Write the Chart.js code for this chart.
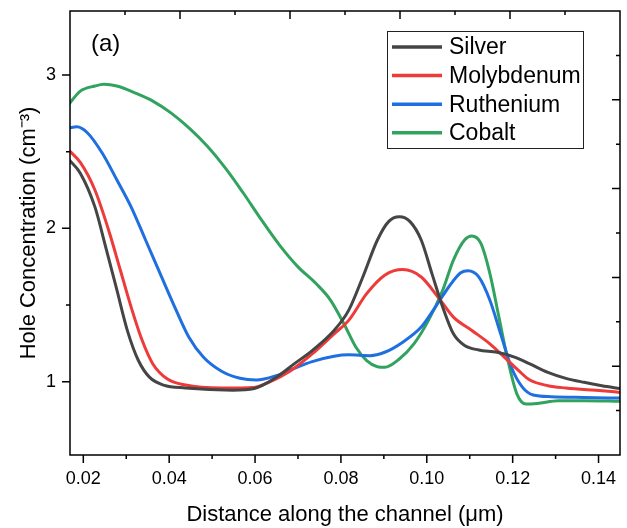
<!DOCTYPE html>
<html>
<head>
<meta charset="utf-8">
<script src="https://cdn.jsdelivr.net/npm/chart.js@4.4.1/dist/chart.umd.min.js"></script>
<style>
  html, body { margin: 0; padding: 0; background: #fff; }
  #wrap { width: 627px; height: 528px; position: relative; }
</style>
</head>
<body>
<div id="wrap"><canvas id="c" width="627" height="528"></canvas></div>
<script>
// ---- data ----
const seriesNames = ['Silver', 'Molybdenum', 'Ruthenium', 'Cobalt'];

const silverX = [0.0166,0.0193,0.0227,0.0252,0.0278,0.0303,0.0328,0.0354,0.0387,0.0438,0.0548,0.0598,0.0649,0.0691,0.0733,0.0784,0.0818,0.0851,0.0885,0.0911,0.0936,0.0961,0.0987,0.1012,0.1037,0.1062,0.1088,0.1121,0.1164,0.1206,0.1240,0.1282,0.1324,0.1366,0.1408,0.1451];
const silverY = [2.45,2.36,2.14,1.88,1.60,1.33,1.14,1.03,0.978,0.959,0.945,0.956,1.028,1.116,1.203,1.334,1.465,1.683,1.924,2.044,2.076,2.044,1.924,1.705,1.487,1.312,1.236,1.207,1.192,1.159,1.116,1.061,1.022,0.996,0.974,0.955];

const molyX = [0.0166,0.0193,0.0227,0.0261,0.0286,0.0311,0.0337,0.0362,0.0396,0.0438,0.0522,0.0598,0.0632,0.0683,0.0733,0.0784,0.0818,0.0860,0.0902,0.0944,0.0987,0.1029,0.1062,0.1105,0.1147,0.1181,0.1214,0.1240,0.1282,0.1324,0.1408,0.1451];
const molyY = [2.51,2.43,2.25,1.97,1.73,1.49,1.27,1.116,1.017,0.978,0.959,0.963,0.996,1.072,1.181,1.312,1.400,1.574,1.694,1.731,1.683,1.541,1.421,1.334,1.247,1.159,1.072,1.011,0.974,0.959,0.941,0.930];

const rutheX = [0.0166,0.0185,0.0210,0.0244,0.0278,0.0311,0.0345,0.0379,0.0413,0.0446,0.0480,0.0522,0.0565,0.0603,0.0649,0.0691,0.0733,0.0784,0.0818,0.0868,0.0902,0.0944,0.0987,0.1020,0.1054,0.1079,0.1096,0.1121,0.1147,0.1172,0.1197,0.1223,0.1248,0.1290,0.1366,0.1451];
const rutheY = [2.655,2.662,2.622,2.491,2.317,2.142,1.924,1.705,1.487,1.290,1.159,1.068,1.022,1.011,1.039,1.087,1.131,1.166,1.175,1.170,1.192,1.258,1.356,1.487,1.629,1.710,1.723,1.683,1.531,1.312,1.094,0.963,0.913,0.902,0.897,0.893];

const cobaltX = [0.0166,0.0193,0.0227,0.0248,0.0278,0.0320,0.0362,0.0404,0.0446,0.0489,0.0531,0.0573,0.0615,0.0657,0.0700,0.0742,0.0776,0.0809,0.0835,0.0860,0.0885,0.0902,0.0936,0.0970,0.1004,0.1037,0.1062,0.1088,0.1105,0.1126,0.1147,0.1168,0.1189,0.1210,0.1231,0.1257,0.1307,0.1366,0.1451];
const cobaltY = [2.808,2.895,2.928,2.939,2.928,2.884,2.830,2.753,2.655,2.535,2.393,2.229,2.055,1.891,1.749,1.640,1.531,1.367,1.225,1.138,1.098,1.094,1.148,1.247,1.400,1.596,1.793,1.924,1.950,1.902,1.705,1.421,1.138,0.919,0.854,0.858,0.876,0.876,0.872];

const xTickValues = [0.02, 0.04, 0.06, 0.08, 0.10, 0.12, 0.14];
const xMinorValues = [0.03, 0.05, 0.07, 0.09, 0.11, 0.13];
const yTickValues = [1, 2, 3];
const yMinorValues = [1.5, 2.5];
const topMajor = [0, 1, 2, 3];
const topMinor = [-0.5, 0.5, 1.5, 2.5, 3.5];
const rightMajor = [1, 2, 3, 4];
const rightMinor = [0.5, 1.5, 2.5, 3.5, 4.5];

const colors = ['#454545', '#ef3a3a', '#1f6fe0', '#31a35e'];
const FONT = '"Liberation Sans", Arial, Helvetica, sans-serif';

function pts(xs, ys) { return xs.map((x, i) => ({ x: x, y: ys[i] })); }
const allX = [silverX, molyX, rutheX, cobaltX];
const allY = [silverY, molyY, rutheY, cobaltY];

const datasets = seriesNames.map((n, i) => ({
  label: n,
  data: pts(allX[i], allY[i]),
  borderColor: colors[i],
  backgroundColor: colors[i],
  borderWidth: 3,
  pointRadius: 0,
  cubicInterpolationMode: 'monotone',
  tension: 0.4,
  fill: false
}));

function noPad(s) { s.paddingTop = 0; s.paddingBottom = 0; s.paddingLeft = 0; s.paddingRight = 0; }

const decor = {
  id: 'decor',
  afterDraw(chart) {
    const ctx = chart.ctx;
    const a = chart.chartArea;
    const sx = chart.scales.x, sy = chart.scales.y, sx2 = chart.scales.x2, sy2 = chart.scales.y2;
    ctx.save();
    ctx.strokeStyle = '#000';
    ctx.lineWidth = 1.5;
    // frame
    ctx.strokeRect(a.left, a.top, a.right - a.left, a.bottom - a.top);
    ctx.beginPath();
    // bottom ticks (outward)
    xTickValues.forEach(v => { const p = sx.getPixelForValue(v); ctx.moveTo(p, a.bottom); ctx.lineTo(p, a.bottom + 8); });
    xMinorValues.forEach(v => { const p = sx.getPixelForValue(v); ctx.moveTo(p, a.bottom); ctx.lineTo(p, a.bottom + 4); });
    // left ticks (outward)
    yTickValues.forEach(v => { const p = sy.getPixelForValue(v); ctx.moveTo(a.left, p); ctx.lineTo(a.left - 8, p); });
    yMinorValues.forEach(v => { const p = sy.getPixelForValue(v); ctx.moveTo(a.left, p); ctx.lineTo(a.left - 4, p); });
    // top ticks (inward)
    topMajor.forEach(v => { const p = sx2.getPixelForValue(v); ctx.moveTo(p, a.top); ctx.lineTo(p, a.top + 8); });
    topMinor.forEach(v => { const p = sx2.getPixelForValue(v); ctx.moveTo(p, a.top); ctx.lineTo(p, a.top + 4); });
    // right ticks (inward)
    rightMajor.forEach(v => { const p = sy2.getPixelForValue(v); ctx.moveTo(a.right, p); ctx.lineTo(a.right - 8, p); });
    rightMinor.forEach(v => { const p = sy2.getPixelForValue(v); ctx.moveTo(a.right, p); ctx.lineTo(a.right - 4, p); });
    ctx.stroke();

    // panel label
    ctx.fillStyle = '#000';
    ctx.font = '24px ' + FONT;
    ctx.textAlign = 'left';
    ctx.textBaseline = 'alphabetic';
    ctx.fillText('(a)', a.left + 21, a.top + 40);

    // legend box
    const bx = 387, by = 31, bw = 196, bh = 117;
    ctx.lineWidth = 1;
    ctx.strokeStyle = '#222';
    ctx.strokeRect(bx + 0.5, by + 0.5, bw, bh);
    ctx.font = '23px ' + FONT;
    ctx.textBaseline = 'middle';
    chart.data.datasets.forEach((d, i) => {
      const yy = by + 16 + i * 28.6;
      ctx.strokeStyle = d.borderColor;
      ctx.lineWidth = 3.5;
      ctx.beginPath();
      ctx.moveTo(bx + 5, yy);
      ctx.lineTo(bx + 55, yy);
      ctx.stroke();
      ctx.fillStyle = '#000';
      ctx.fillText(d.label, bx + 62, yy + 1);
    });
    ctx.restore();
  }
};

new Chart(document.getElementById('c'), {
  type: 'line',
  data: { datasets: datasets },
  plugins: [decor],
  options: {
    responsive: false,
    animation: false,
    devicePixelRatio: 1,
    layout: { padding: 0 },
    plugins: { legend: { display: false }, tooltip: { enabled: false } },
    scales: {
      x: {
        type: 'linear', position: 'bottom', min: 0.0169, max: 0.145,
        grid: { display: false, drawTicks: false },
        border: { display: false },
        afterBuildTicks: s => { s.ticks = xTickValues.map(v => ({ value: v })); },
        afterFit: s => { s.height = 73; noPad(s); },
        ticks: { padding: 13, color: '#000', font: { family: FONT, size: 18 }, maxRotation: 0, autoSkip: false,
          callback: v => Number(v).toFixed(2) },
        title: { display: true, text: 'Distance along the channel (\u03bcm)', color: '#000',
          font: { family: FONT, size: 22 }, padding: { top: 0, bottom: 0 } }
      },
      y: {
        type: 'linear', position: 'left', min: 0.522, max: 3.4175,
        grid: { display: false, drawTicks: false },
        border: { display: false },
        afterBuildTicks: s => { s.ticks = yTickValues.map(v => ({ value: v })); },
        afterFit: s => { s.width = 70; noPad(s); },
        ticks: { padding: 14, color: '#000', font: { family: FONT, size: 18 }, autoSkip: false,
          callback: v => String(v) },
        title: { display: true, text: 'Hole Concentration (cm\u207b\u00b3)', color: '#000',
          font: { family: FONT, size: 22 }, padding: { top: 16, bottom: 0 } }
      },
      x2: {
        type: 'linear', position: 'top', min: -1, max: 4,
        grid: { display: false, drawTicks: false }, border: { display: false },
        ticks: { display: false },
        afterFit: s => { s.height = 11; noPad(s); }
      },
      y2: {
        type: 'linear', position: 'right', min: 0, max: 5,
        grid: { display: false, drawTicks: false }, border: { display: false },
        ticks: { display: false },
        afterFit: s => { s.width = 7; noPad(s); }
      }
    }
  }
});
</script>
</body>
</html>
